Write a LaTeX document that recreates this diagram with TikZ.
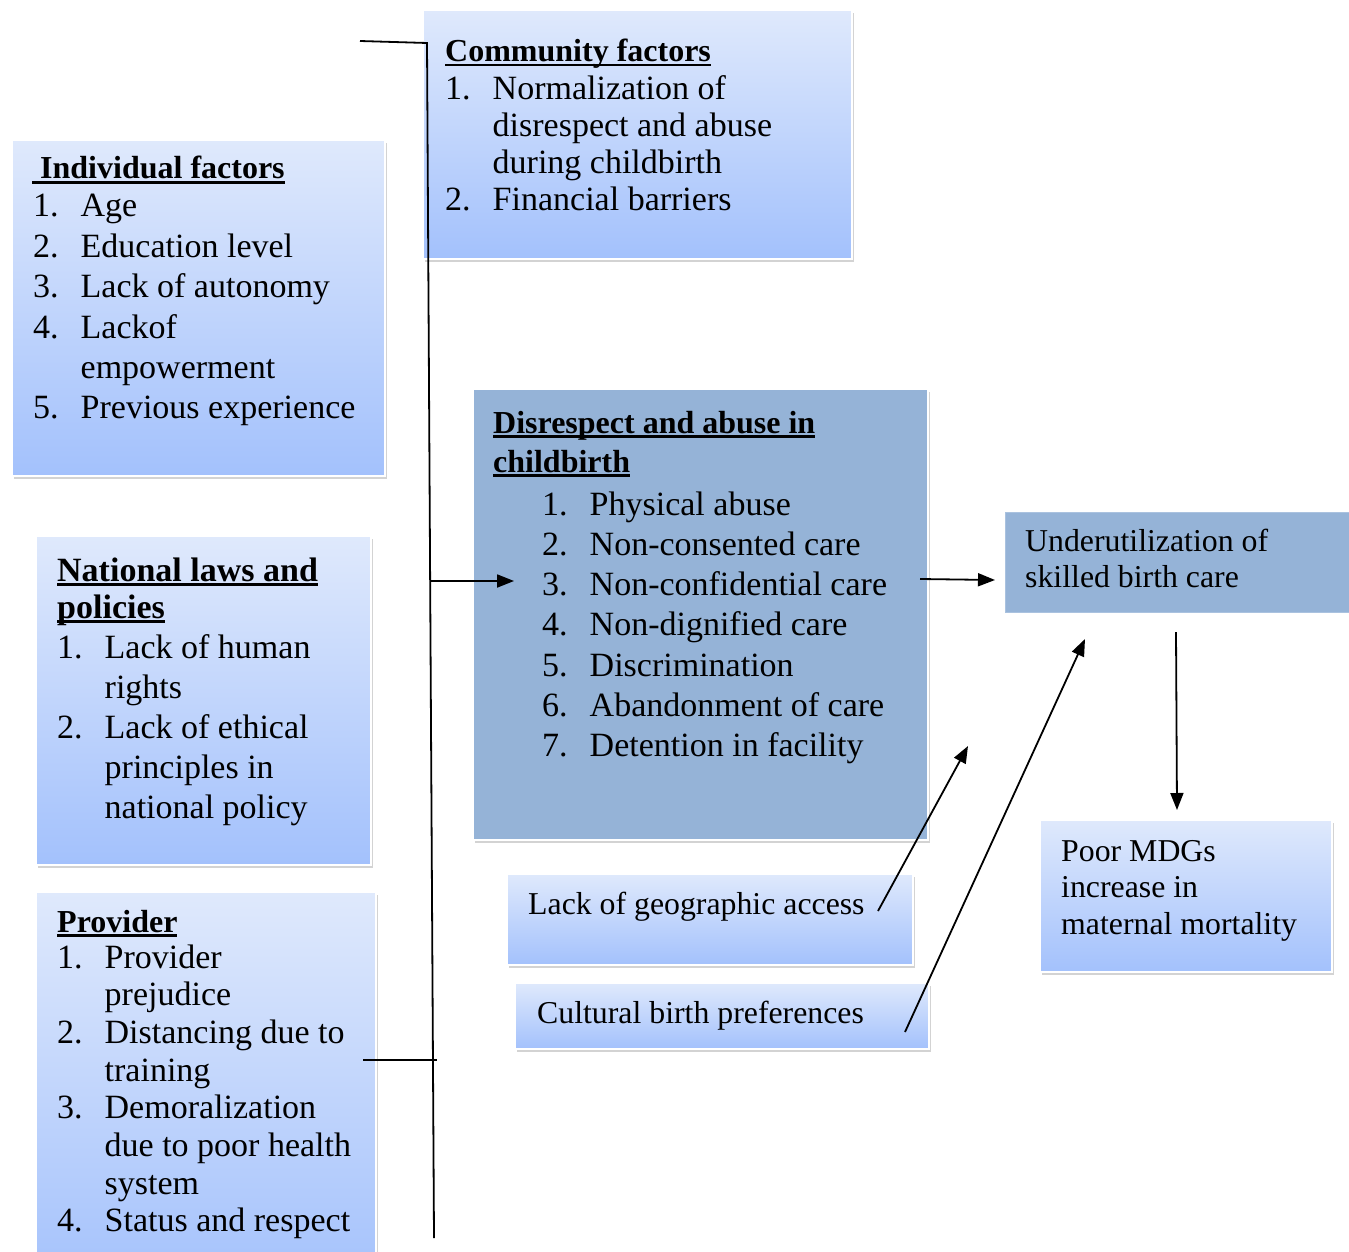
\documentclass[tikz,border=0pt]{standalone}
\usepackage{fontspec}
\setmainfont{Liberation Serif}
\usetikzlibrary{arrows.meta,shadows}
\definecolor{lt}{RGB}{223,233,252}
\definecolor{lb}{RGB}{163,193,252}
\definecolor{dk}{RGB}{149,179,215}
\newcommand\hul[1]{\setbox0\hbox{#1}\rlap{\rule[-4.5pt]{\wd0}{2.4pt}}\box0}
\newcommand\nm[1]{\makebox[47.5pt][l]{#1}}
\tikzset{
  shd/.style={drop shadow={opacity=0.35, shadow xshift=1.5pt, shadow yshift=-3pt}},
  lbox/.style={draw=white, line width=2pt, top color=lt, bottom color=lb, shd, anchor=north west, inner sep=0pt, outer sep=0pt},
  dbox/.style={draw=white, line width=2pt, fill=dk, shd, anchor=north west, inner sep=0pt, outer sep=0pt},
  hd/.style={anchor=base west, inner sep=0pt, font=\bfseries\fontsize{32}{39}\selectfont},
  lst/.style={anchor=base west, inner sep=0pt},
  tt/.style={anchor=base west, inner sep=0pt, font=\fontsize{31.8}{36.5}\selectfont},
  conn/.style={line width=1.8pt, black},
  arr/.style={conn, -{Triangle[length=17pt,width=13pt]}},
}
\begin{document}
\begin{tikzpicture}[x=1pt,y=-1pt]
\useasboundingbox (0,0) rectangle (1349,1252);
\clip (0,0) rectangle (1349,1252);
% boxes
\node[lbox, minimum width=429pt, minimum height=249pt] (comm) at (423,10) {};
\node[lbox, minimum width=373pt, minimum height=336pt] (ind) at (12,140) {};
\node[lbox, minimum width=335pt, minimum height=329pt] (nat) at (36,536) {};
\node[lbox, minimum width=340pt, minimum height=400pt] (prov) at (36,892) {};
\node[dbox, minimum width=455pt, minimum height=451pt] (dis) at (473,389) {};
\node[draw=dk!80!white, line width=1pt, fill=dk, anchor=north west, inner sep=0pt, minimum width=360pt, minimum height=100pt] (und) at (1005,512) {};
\node[lbox, minimum width=292pt, minimum height=152pt] (poor) at (1040,820) {};
\node[lbox, minimum width=406pt, minimum height=91pt] (geo) at (507,874) {};
\node[lbox, minimum width=414pt, minimum height=66pt] (cult) at (515,983) {};
% connector points
\coordinate (tl) at (360,41);
\coordinate (vt) at (427,43);
\coordinate (vb) at (434,1238);
\coordinate (pl) at (363,1060);
\coordinate (pr) at (437,1060);
\coordinate (a1s) at (430,581);
\coordinate (a1e) at (514,581);
\coordinate (a2s) at (920,579);
\coordinate (a2e) at (995,580);
\coordinate (a3s) at (1176,632);
\coordinate (a3e) at (1177,810);
\coordinate (a4s) at (878,911);
\coordinate (a4e) at (968,746);
\coordinate (a5s) at (905,1032);
\coordinate (a5e) at (1085,639);
\draw[conn] (tl) -- (vt) -- (vb);
\draw[conn] (pl) -- (pr);
\draw[arr] (a1s) -- (a1e);
\draw[arr] (a2s) -- (a2e);
\draw[arr] (a3s) -- (a3e);
\draw[arr] (a4s) -- (a4e);
\draw[arr] (a5s) -- (a5e);
% texts
\node[hd] (commH) at (445,62) {\hul{Community factors}};
\node[lst] (commL) at (445,100) {\fontsize{34}{36.7}\selectfont\begin{tabular}[t]{@{}l@{}}
\nm{1.}Normalization of\\ \nm{}disrespect and abuse\\ \nm{}during childbirth\\ \nm{2.}Financial barriers\end{tabular}};

\node[hd] (indH) at (32,179) {\hul{\ Individual factors}};
\node[lst] (indL) at (33,217) {\fontsize{34}{40.4}\selectfont\begin{tabular}[t]{@{}l@{}}
\nm{1.}Age\\ \nm{2.}Education level\\ \nm{3.}Lack of autonomy\\ \nm{4.}Lackof\\ \nm{}empowerment\\ \nm{5.}Previous experience\end{tabular}};

\node[lst] (natH) at (57,581) {\bfseries\fontsize{34}{37}\selectfont\begin{tabular}[t]{@{}l@{}}
\hul{National laws and}\\ \hul{policies}\end{tabular}};
\node[lst] (natL) at (57,658) {\fontsize{34}{40}\selectfont\begin{tabular}[t]{@{}l@{}}
\nm{1.}Lack of human\\ \nm{}rights\\ \nm{2.}Lack of ethical\\ \nm{}principles in\\ \nm{}national policy\end{tabular}};

\node[hd] (provH) at (57,932) {\hul{Provider}};
\node[lst] (provL) at (57,968) {\fontsize{34}{37.7}\selectfont\begin{tabular}[t]{@{}l@{}}
\nm{1.}Provider\\ \nm{}prejudice\\ \nm{2.}Distancing due to\\ \nm{}training\\ \nm{3.}Demoralization\\ \nm{}due to poor health\\ \nm{}system\\ \nm{4.}Status and respect\end{tabular}};

\node[lst] (disH) at (493,433) {\bfseries\fontsize{32}{39}\selectfont\begin{tabular}[t]{@{}l@{}}
\hul{Disrespect and abuse in}\\ \hul{childbirth}\end{tabular}};
\node[lst] (disL) at (542,515) {\fontsize{34}{40.3}\selectfont\begin{tabular}[t]{@{}l@{}}
\nm{1.}Physical abuse\\ \nm{2.}Non-consented care\\ \nm{3.}Non-confidential care\\ \nm{4.}Non-dignified care\\ \nm{5.}Discrimination\\ \nm{6.}Abandonment of care\\ \nm{7.}Detention in facility\end{tabular}};

\node[lst] (undT) at (1025,551) {\fontsize{31.8}{36}\selectfont\begin{tabular}[t]{@{}l@{}}
Underutilization of\\ skilled birth care\end{tabular}};
\node[lst] (poorT) at (1061,861) {\fontsize{31.8}{36.5}\selectfont\begin{tabular}[t]{@{}l@{}}
Poor MDGs\\ increase in\\ maternal mortality\end{tabular}};
\node[tt] (geoT) at (528,914) {Lack of geographic access};
\node[tt] (cultT) at (537,1023) {Cultural birth preferences};
\end{tikzpicture}
\end{document}
